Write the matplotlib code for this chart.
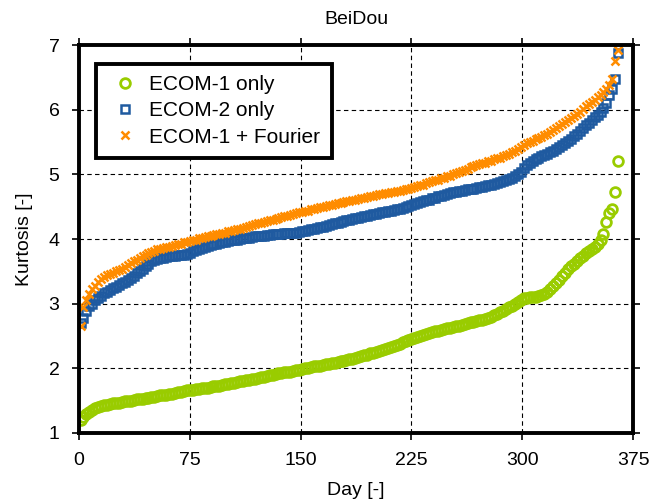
import matplotlib
matplotlib.use("Agg")
import matplotlib.pyplot as plt
import numpy as np

plt.rcParams["font.family"] = ["Liberation Sans", "DejaVu Sans"]

# sorted daily kurtosis, one value every second day (days 1, 3, ..., 365)
days = list(range(1, 366, 2))

ecom1_only = [
    1.20, 1.25, 1.30, 1.33, 1.36, 1.38, 1.40, 1.42, 1.43, 1.44,
    1.45, 1.46, 1.47, 1.47, 1.48, 1.49, 1.50, 1.50, 1.51, 1.52,
    1.52, 1.53, 1.54, 1.54, 1.55, 1.56, 1.57, 1.58, 1.58, 1.59,
    1.60, 1.61, 1.62, 1.63, 1.64, 1.65, 1.66, 1.66, 1.67, 1.68,
    1.68, 1.69, 1.70, 1.70, 1.71, 1.72, 1.72, 1.73, 1.74, 1.75,
    1.76, 1.77, 1.78, 1.79, 1.80, 1.81, 1.82, 1.82, 1.83, 1.84,
    1.85, 1.86, 1.87, 1.88, 1.89, 1.90, 1.91, 1.92, 1.93, 1.94,
    1.94, 1.95, 1.96, 1.97, 1.98, 1.99, 2.00, 2.01, 2.02, 2.03,
    2.03, 2.04, 2.05, 2.06, 2.07, 2.08, 2.09, 2.10, 2.11, 2.12,
    2.13, 2.14, 2.15, 2.16, 2.17, 2.19, 2.20, 2.21, 2.23, 2.24,
    2.26, 2.27, 2.29, 2.30, 2.32, 2.33, 2.35, 2.36, 2.38, 2.40,
    2.42, 2.44, 2.46, 2.47, 2.49, 2.50, 2.51, 2.53, 2.54, 2.56,
    2.57, 2.58, 2.60, 2.61, 2.62, 2.63, 2.64, 2.65, 2.66, 2.67,
    2.68, 2.70, 2.71, 2.72, 2.73, 2.74, 2.75, 2.77, 2.78, 2.80,
    2.82, 2.84, 2.87, 2.89, 2.92, 2.95, 2.97, 3.00, 3.03, 3.05,
    3.08, 3.09, 3.10, 3.10, 3.11, 3.12, 3.13, 3.15, 3.18, 3.22,
    3.27, 3.32, 3.37, 3.43, 3.48, 3.53, 3.58, 3.62, 3.66, 3.70,
    3.74, 3.78, 3.82, 3.85, 3.88, 3.92, 3.98, 4.08, 4.26, 4.40,
    4.47, 4.72, 5.21,
]

ecom2_only = [
    2.70, 2.78, 2.88, 2.96, 3.00, 3.06, 3.09, 3.12, 3.16, 3.18,
    3.21, 3.24, 3.26, 3.29, 3.32, 3.34, 3.37, 3.40, 3.43, 3.47,
    3.50, 3.54, 3.58, 3.62, 3.66, 3.67, 3.69, 3.70, 3.71, 3.72,
    3.73, 3.74, 3.74, 3.75, 3.75, 3.76, 3.77, 3.79, 3.81, 3.83,
    3.85, 3.86, 3.88, 3.89, 3.91, 3.92, 3.93, 3.94, 3.95, 3.96,
    3.97, 3.98, 3.99, 3.99, 4.00, 4.01, 4.02, 4.02, 4.03, 4.04,
    4.04, 4.05, 4.05, 4.06, 4.06, 4.07, 4.07, 4.08, 4.08, 4.09,
    4.09, 4.09, 4.10, 4.10, 4.11, 4.12, 4.13, 4.14, 4.15, 4.16,
    4.17, 4.18, 4.19, 4.20, 4.21, 4.23, 4.24, 4.25, 4.27, 4.28,
    4.29, 4.30, 4.31, 4.32, 4.33, 4.34, 4.35, 4.36, 4.37, 4.38,
    4.39, 4.40, 4.41, 4.42, 4.43, 4.44, 4.45, 4.46, 4.47, 4.48,
    4.49, 4.51, 4.52, 4.54, 4.55, 4.57, 4.58, 4.60, 4.61, 4.63,
    4.64, 4.66, 4.67, 4.68, 4.70, 4.71, 4.72, 4.73, 4.74, 4.75,
    4.76, 4.77, 4.77, 4.78, 4.79, 4.80, 4.81, 4.82, 4.83, 4.84,
    4.85, 4.87, 4.88, 4.90, 4.91, 4.93, 4.95, 4.97, 5.00, 5.04,
    5.10, 5.15, 5.18, 5.21, 5.24, 5.26, 5.28, 5.30, 5.32, 5.34,
    5.36, 5.39, 5.42, 5.45, 5.48, 5.52, 5.55, 5.59, 5.63, 5.67,
    5.72, 5.76, 5.80, 5.84, 5.88, 5.92, 5.96, 6.02, 6.10, 6.22,
    6.32, 6.48, 6.88,
]

ecom1_fourier = [
    2.65, 2.95, 3.05, 3.15, 3.22, 3.28, 3.33, 3.38, 3.42, 3.44,
    3.46, 3.48, 3.50, 3.52, 3.54, 3.57, 3.60, 3.63, 3.66, 3.68,
    3.70, 3.73, 3.75, 3.78, 3.80, 3.82, 3.84, 3.85, 3.86, 3.87,
    3.88, 3.89, 3.91, 3.92, 3.93, 3.95, 3.96, 3.97, 3.98, 3.99,
    4.01, 4.02, 4.03, 4.04, 4.05, 4.06, 4.07, 4.08, 4.09, 4.10,
    4.12, 4.13, 4.14, 4.15, 4.16, 4.17, 4.18, 4.20, 4.21, 4.23,
    4.24, 4.25, 4.26, 4.28, 4.29, 4.30, 4.31, 4.32, 4.34, 4.35,
    4.36, 4.37, 4.38, 4.40, 4.41, 4.42, 4.43, 4.44, 4.46, 4.47,
    4.48, 4.49, 4.50, 4.51, 4.52, 4.53, 4.54, 4.55, 4.56, 4.57,
    4.58, 4.59, 4.60, 4.61, 4.62, 4.63, 4.64, 4.65, 4.66, 4.67,
    4.68, 4.69, 4.70, 4.71, 4.71, 4.72, 4.73, 4.74, 4.75, 4.76,
    4.77, 4.78, 4.79, 4.80, 4.82, 4.83, 4.84, 4.86, 4.88, 4.90,
    4.91, 4.92, 4.94, 4.95, 4.97, 4.98, 5.00, 5.02, 5.04, 5.05,
    5.07, 5.09, 5.11, 5.13, 5.14, 5.16, 5.17, 5.18, 5.20, 5.21,
    5.23, 5.25, 5.26, 5.28, 5.30, 5.32, 5.34, 5.36, 5.39, 5.42,
    5.45, 5.48, 5.50, 5.52, 5.54, 5.56, 5.58, 5.61, 5.63, 5.66,
    5.69, 5.72, 5.75, 5.78, 5.81, 5.84, 5.87, 5.90, 5.93, 5.97,
    6.01, 6.05, 6.09, 6.12, 6.15, 6.19, 6.23, 6.27, 6.32, 6.38,
    6.47, 6.76, 6.92,
]

x_ticks = [0, 75, 150, 225, 300, 375]
y_ticks = [1, 2, 3, 4, 5, 6, 7]

green = "#99cc00"
blue = "#1f5aa0"
orange = "#ff8c00"

fig = plt.figure(figsize=(6.51, 5.03), dpi=100)
ax = fig.add_axes([0.1214, 0.1392, 0.851, 0.7713])

ax.plot(days, ecom1_only, "o", ls="none", ms=7, mfc="none", mec=green,
        mew=2.0, label="ECOM-1 only")
ax.plot(days, ecom2_only, "s", ls="none", ms=5.5, mfc="none", mec=blue,
        mew=1.8, label="ECOM-2 only")
ax.plot(days, ecom1_fourier, "x", ls="none", ms=5.5, mec=orange,
        mew=1.8, label="ECOM-1 + Fourier")

ax.set_xlim(0, 375)
ax.set_ylim(1, 7)
ax.set_xticks(x_ticks)
ax.set_yticks(y_ticks)
ax.tick_params(direction="out", length=5, width=1.2, labelsize=14,
               top=True, right=True)
ax.tick_params(axis="x", pad=9)
ax.tick_params(axis="y", pad=9)
ax.grid(True, color="black", linestyle=(0, (4, 3)), linewidth=0.8)
ax.set_axisbelow(True)
for s in ax.spines.values():
    s.set_linewidth(2.8)

ax.set_xlabel("Day [-]", fontsize=14, labelpad=9)
ax.set_ylabel("Kurtosis [-]", fontsize=14, labelpad=11)
ax.set_title("BeiDou", fontsize=14, pad=15)

leg = ax.legend(loc="upper left", bbox_to_anchor=(0.031, 0.952), fontsize=15,
                frameon=True, fancybox=False, handlelength=1.7,
                handletextpad=0.3, borderpad=0.55, labelspacing=0.35,
                borderaxespad=0)
leg.get_frame().set_edgecolor("black")
leg.get_frame().set_linewidth(2.8)
leg.get_frame().set_alpha(1)

fig.savefig("out.png", dpi=100)
